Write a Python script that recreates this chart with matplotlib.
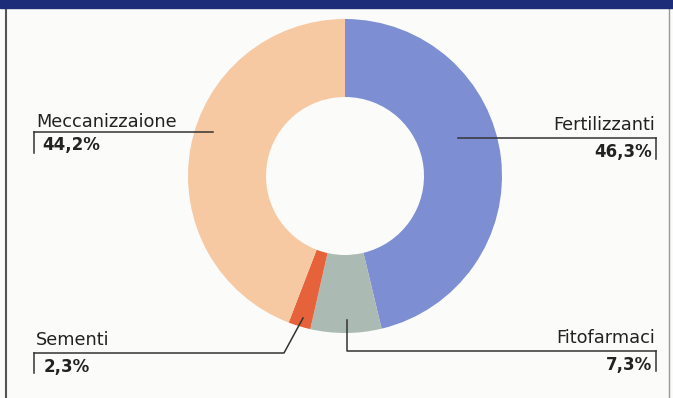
import matplotlib.pyplot as plt
from matplotlib.patches import Rectangle

# quote di spesa
categorie = ["Fertilizzanti", "Fitofarmaci", "Sementi", "Meccanizzaione"]
valori = [46.3, 7.3, 2.3, 44.2]
etichette = ["46,3%", "7,3%", "2,3%", "44,2%"]
colori = ["#7d8fd2", "#abbab2", "#e6623a", "#f6c9a2"]

W, H = 673, 398
fig = plt.figure(figsize=(W / 100, H / 100), dpi=100)
fig.patch.set_facecolor("#fbfbfa")
ax = fig.add_axes([0, 0, 1, 1])

def y(p):
    # da pixel (alto in giu') a coordinate dati
    return H - p

ax.pie(valori, colors=colori, startangle=90, counterclock=False,
       center=(345, y(176)), radius=157, frame=True,
       wedgeprops=dict(width=78, linewidth=0))
ax.set_xlim(0, W)
ax.set_ylim(0, H)
ax.axis("off")

# cornice
ax.add_patch(Rectangle((0, y(8)), W, 8, color="#1d2c78", zorder=5))
ax.plot([6, 6], [0, y(8)], color="#555555", lw=1.5)
ax.plot([669, 669], [0, y(8)], color="#999999", lw=1)

fn = "DejaVu Sans"
lc = "#333333"
tc = "#222222"
fs = 12.8   # nomi
fp = 12     # percentuali

# Meccanizzazione
ax.plot([34, 213], [y(132), y(132)], color=lc, lw=1.1)
ax.plot([34, 34], [y(132), y(153)], color=lc, lw=1.1)
ax.text(36, y(127), categorie[3], fontsize=fs, family=fn, color=tc, va="baseline")
ax.text(42, y(150), etichette[3], fontsize=fp, family=fn, weight="bold", color=tc, va="baseline")

# Fertilizzanti
ax.plot([458, 656], [y(137.5), y(137.5)], color=lc, lw=1.1)
ax.plot([656, 656], [y(137.5), y(159)], color=lc, lw=1.1)
ax.text(655, y(130), categorie[0], fontsize=fs, family=fn, color=tc, va="baseline", ha="right")
ax.text(652, y(157), etichette[0], fontsize=fp, family=fn, weight="bold", color=tc, va="baseline", ha="right")

# Sementi
ax.plot([34, 284, 303], [y(353), y(353), y(318)], color=lc, lw=1.1)
ax.plot([34, 34], [y(353), y(373)], color=lc, lw=1.1)
ax.text(36, y(345), categorie[2], fontsize=fs, family=fn, color=tc, va="baseline")
ax.text(44, y(372), etichette[2], fontsize=fp, family=fn, weight="bold", color=tc, va="baseline")

# Fitofarmaci
ax.plot([347, 347, 656], [y(320), y(351), y(351)], color=lc, lw=1.1)
ax.plot([656, 656], [y(351), y(371)], color=lc, lw=1.1)
ax.text(655, y(343), categorie[1], fontsize=fs, family=fn, color=tc, va="baseline", ha="right")
ax.text(652, y(370), etichette[1], fontsize=fp, family=fn, weight="bold", color=tc, va="baseline", ha="right")

fig.savefig("out.png", dpi=100, facecolor=fig.get_facecolor())
